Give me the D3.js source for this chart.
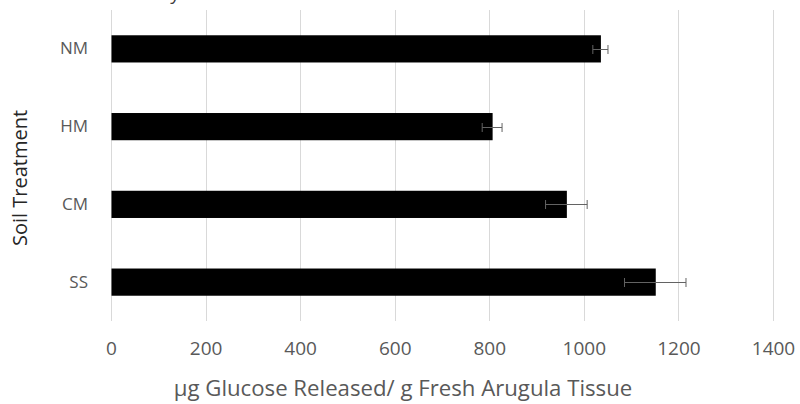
<!DOCTYPE html>
<html>
<head>
<meta charset="utf-8">
<script src="https://cdn.jsdelivr.net/npm/d3@7"></script>
<style>
  html, body { margin: 0; padding: 0; background: #fff; }
  svg { display: block; }
  text { font-family: "Open Sans", "Noto Sans", sans-serif; }
</style>
</head>
<body>
<svg id="chart" width="800" height="404"></svg>
<script>
const categories = ["NM", "HM", "CM", "SS"];
const values = [1035, 806, 963, 1151];
const errors = [16, 21, 44, 65];
const xTicks = [0, 200, 400, 600, 800, 1000, 1200, 1400];
const titleText = "Glucose Release by Soil";
const xTitle = "µg Glucose Released/ g Fresh Arugula Tissue";
const yTitle = "Soil Treatment";

const svg = d3.select("#chart");
const plot = { left: 111, right: 773, top: 10, bottom: 321 };

const x = d3.scaleLinear().domain([0, 1400]).range([plot.left, plot.right]);
const y = d3.scaleBand().domain(categories).range([plot.top, plot.bottom])
  .paddingInner(0.65).paddingOuter(0.325);

// title, clipped at the top edge as in the reference
svg.append("text")
  .attr("x", 10).attr("y", 0)
  .attr("font-size", 19).attr("fill", "#404040")
  .text(titleText);

// gridlines
svg.append("g").selectAll("line").data(xTicks).join("line")
  .attr("x1", d => Math.round(x(d)) + 0.5).attr("x2", d => Math.round(x(d)) + 0.5)
  .attr("y1", plot.top).attr("y2", plot.bottom)
  .attr("stroke", "#d9d9d9").attr("stroke-width", 1);

// x axis labels
const xAxis = d3.axisBottom(x).tickValues(xTicks).tickFormat(d3.format("d")).tickSize(0).tickPadding(0);
const gx = svg.append("g").attr("transform", `translate(0, 341)`).call(xAxis);
gx.select(".domain").remove();
gx.selectAll("text").attr("font-size", 19).attr("fill", "#595959")
  .attr("font-family", '"Open Sans", sans-serif').attr("dy", "0.71em");

// y axis labels
const yAxis = d3.axisLeft(y).tickSize(0).tickPadding(0);
const gy = svg.append("g").attr("transform", `translate(88, 0)`).call(yAxis);
gy.select(".domain").remove();
gy.selectAll("text").attr("font-size", 17).attr("fill", "#595959")
  .attr("font-family", '"Open Sans", sans-serif');

// bars
const data = categories.map((c, i) => ({ c, v: values[i], e: errors[i] }));
svg.append("g").selectAll("rect").data(data).join("rect")
  .attr("x", x(0) + 0.5)
  .attr("y", d => y(d.c))
  .attr("width", d => x(d.v) - x(0))
  .attr("height", y.bandwidth())
  .attr("fill", "#000");

// error bars
const eb = svg.append("g").attr("stroke", "#636363").attr("stroke-width", 1).attr("fill", "none");
data.forEach(d => {
  const cy = Math.round(y(d.c) + y.bandwidth() / 2) + 0.5;
  const x1 = x(d.v - d.e), x2 = x(d.v + d.e);
  eb.append("line").attr("x1", x1).attr("x2", x2).attr("y1", cy).attr("y2", cy);
  eb.append("line").attr("x1", x1).attr("x2", x1).attr("y1", cy - 4.5).attr("y2", cy + 4.5);
  eb.append("line").attr("x1", x2).attr("x2", x2).attr("y1", cy - 4.5).attr("y2", cy + 4.5);
});

// axis titles
svg.append("text")
  .attr("x", 403).attr("y", 396)
  .attr("text-anchor", "middle")
  .attr("font-size", 22.2).attr("fill", "#595959")
  .text(xTitle);

svg.append("text")
  .attr("transform", `translate(27, 178) rotate(-90)`)
  .attr("text-anchor", "middle")
  .attr("font-size", 20).attr("fill", "#262626")
  .text(yTitle);
</script>
</body>
</html>
